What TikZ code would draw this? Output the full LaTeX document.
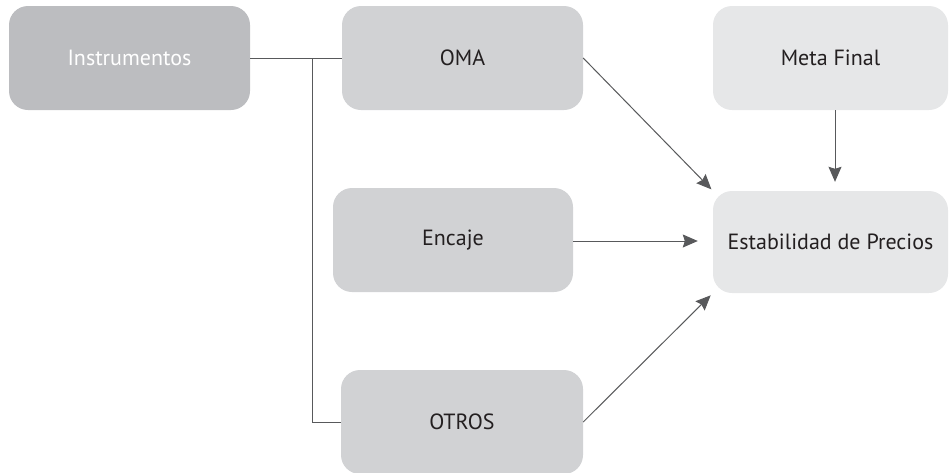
\documentclass[tikz,border=0pt]{standalone}
\usepackage{fontspec}
\setmainfont{PT Sans}
\usetikzlibrary{arrows.meta}
\definecolor{boxA}{HTML}{BCBDC0}
\definecolor{boxB}{HTML}{D1D2D4}
\definecolor{boxC}{HTML}{E6E7E8}
\definecolor{linecol}{HTML}{58595B}
\definecolor{txt}{HTML}{231F20}
\begin{document}
\begin{tikzpicture}[x=1pt,y=-1pt,
  box/.style={rounded corners=19pt, minimum width=241pt, minimum height=104pt,
    inner sep=0pt, font=\fontsize{22}{26}\selectfont, text=txt},
  conn/.style={draw=linecol, line width=1pt},
  arr/.style={conn, -{Stealth[length=15pt,width=13pt,inset=2pt]}}]
\useasboundingbox (0,0) rectangle (950,472);
\node[box, fill=boxA, text=white] (ins) at (129.5,58) {Instrumentos};
\node[box, fill=boxB] (oma) at (462.5,58) {OMA};
\node[box, fill=boxB, minimum width=240pt] (enc) at (453,240) {Encaje};
\node[box, fill=boxB, minimum width=242pt] (otr) at (462,422) {OTROS};
\node[box, fill=boxC, minimum width=235pt] (meta) at (830.5,58) {Meta Final};
\node[box, fill=boxC, minimum width=235pt, minimum height=102pt] (est) at (830.5,242) {Estabilidad de Precios};
\coordinate (j) at (312,58);
\draw[conn] (ins.east) -- (oma.west);
\draw[conn] (j) |- (otr.west);
\draw[arr, shorten >=2pt] (oma.east) -- (est.north west);
\draw[arr, shorten >=15pt] ([yshift=-1pt]enc.east) -- ([yshift=-1pt]enc.east -| est.west);
\draw[arr, shorten >=3pt] (otr.east) -- (est.south west);
\draw[arr, shorten >=9pt] ([xshift=4.5pt]meta.south) -- ([xshift=4.5pt]est.north);
\end{tikzpicture}
\end{document}
